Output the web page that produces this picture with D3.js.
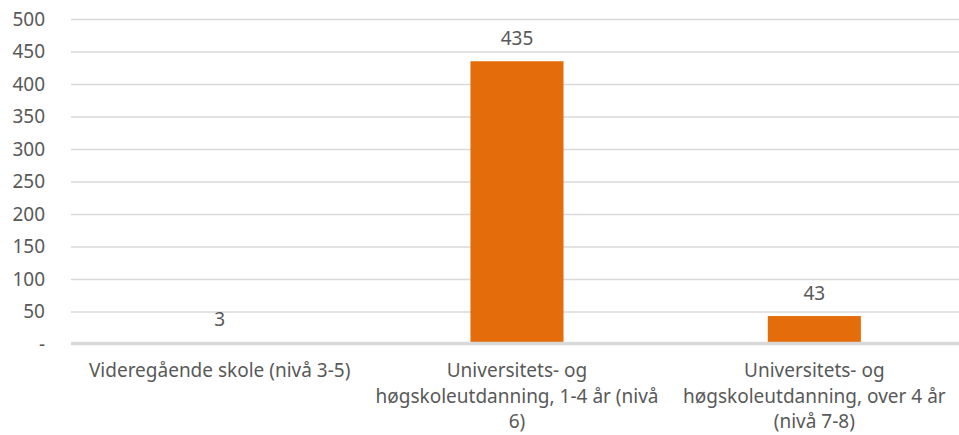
<!DOCTYPE html>
<html lang="no">
<head>
    <meta charset="utf-8">
    <title>Utdanningsnivå</title>
    <style type="text/css">
        body { margin: 0; background: #fff; }
        .chart text { font-family: "Noto Sans", sans-serif; fill: #595959; font-size: 19px; }
        .grid line { stroke: #d9d9d9; stroke-width: 1.5; }
        .grid .domain { display: none; }
    </style>
</head>
<body>
   <svg class="chart" width="959" height="435"></svg>

   <script src="https://d3js.org/d3.v7.min.js"></script>
   <script>
        // data
        var categories = ['Videregående skole (nivå 3-5)',
                          'Universitets- og høgskoleutdanning, 1-4 år (nivå 6)',
                          'Universitets- og høgskoleutdanning, over 4 år (nivå 7-8)'];
        var labelLines = [['Videregående skole (nivå 3-5)'],
                          ['Universitets- og', 'høgskoleutdanning, 1-4 år (nivå', '6)'],
                          ['Universitets- og', 'høgskoleutdanning, over 4 år', '(nivå 7-8)']];
        var values = [3, 435, 43];
        var yTicks = [0, 50, 100, 150, 200, 250, 300, 350, 400, 450, 500];

        var svg = d3.select('.chart'),
            padding = {top: 19, left: 71},
            plot_w = 892,
            plot_h = 325;

        var g = svg.append('g')
                   .attr('transform', 'translate(' + padding.left + ',' + padding.top + ')');

        var x = d3.scaleBand().domain(categories).range([0, plot_w]).paddingInner(0.687).paddingOuter(0.3435),
            y = d3.scaleLinear().domain([0, 500]).range([plot_h, 0]);

        // gridlines
        g.append('g')
         .attr('class', 'grid')
         .call(d3.axisLeft(y).tickValues(yTicks).tickSize(-plot_w).tickFormat(''));

        // y tick labels
        g.selectAll('.ylab')
         .data(yTicks)
         .enter().append('text')
         .attr('class', 'ylab')
         .attr('x', -26)
         .attr('y', function(d) { return y(d); })
         .attr('dy', '0.35em')
         .attr('text-anchor', 'end')
         .text(function(d) { return d === 0 ? '-' : d; });

        // bars
        g.selectAll('.bar')
         .data(values)
         .enter().append('rect')
         .attr('class', 'bar')
         .attr('x', function(d, i) { return x(categories[i]); })
         .attr('y', function(d) { return y(d); })
         .attr('width', x.bandwidth())
         .attr('height', function(d) { return plot_h - y(d); })
         .attr('fill', '#e46c0a');

        // baseline over the bars (the tiny bar hides under it)
        g.append('line')
         .attr('x1', 0)
         .attr('x2', plot_w)
         .attr('y1', y(0) - 1)
         .attr('y2', y(0) - 1)
         .attr('stroke', '#d9d9d9')
         .attr('stroke-width', 2.4);

        // value labels
        g.selectAll('.vlab')
         .data(values)
         .enter().append('text')
         .attr('class', 'vlab')
         .attr('x', function(d, i) { return x(categories[i]) + x.bandwidth() / 2; })
         .attr('y', function(d) { return y(d) - 16; })
         .attr('text-anchor', 'middle')
         .text(function(d) { return d; });

        // category labels
        var cat = g.selectAll('.xlab')
         .data(labelLines)
         .enter().append('text')
         .attr('class', 'xlab')
         .attr('text-anchor', 'middle')
         .attr('transform', function(d, i) {
             return 'translate(' + (x(categories[i]) + x.bandwidth() / 2) + ',' + (plot_h + 33) + ')';
         });

        cat.selectAll('tspan')
           .data(function(d) { return d; })
           .enter().append('tspan')
           .attr('x', 0)
           .attr('dy', function(d, i) { return i === 0 ? 0 : 25.5; })
           .text(function(d) { return d; });
   </script>
</body>
</html>
